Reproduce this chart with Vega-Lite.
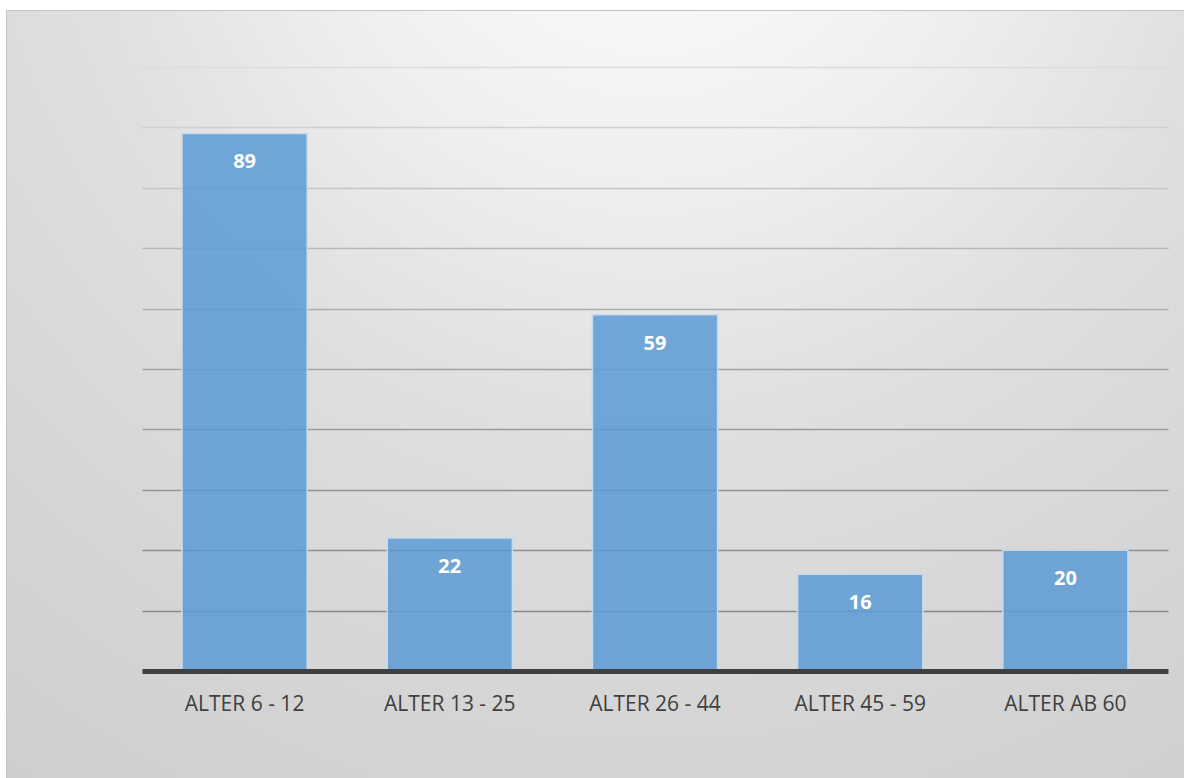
{
  "$schema": "https://vega.github.io/schema/vega-lite/v6.json",
  "autosize": {"type": "none"},
  "padding": {"left": 6, "top": 10, "right": 0, "bottom": 0},
  "width": 1178,
  "height": 768,
  "background": "#ffffff",
  "config": {
    "font": "Open Sans"
  },
  "view": {
    "stroke": "#c4c4c4",
    "strokeWidth": 1,
    "fill": {
      "gradient": "radial",
      "x1": 0.547, "y1": 0.03, "r1": 0,
      "x2": 0.547, "y2": 0.03, "r2": 1.2,
      "stops": [
        {"offset": 0, "color": "#ffffff"},
        {"offset": 0.25, "color": "#eeeeee"},
        {"offset": 0.417, "color": "#dfdfdf"},
        {"offset": 0.625, "color": "#d5d5d5"},
        {"offset": 0.833, "color": "#cdcdcd"},
        {"offset": 1, "color": "#c4c4c4"}
      ]
    }
  },
  "data": {
    "values": [
      {"gruppe": "ALTER 6 - 12", "wert": 89},
      {"gruppe": "ALTER 13 - 25", "wert": 22},
      {"gruppe": "ALTER 26 - 44", "wert": 59},
      {"gruppe": "ALTER 45 - 59", "wert": 16},
      {"gruppe": "ALTER AB 60", "wert": 20}
    ]
  },
  "encoding": {
    "x": {
      "field": "gruppe",
      "type": "nominal",
      "sort": null,
      "scale": {"range": [136, 1162], "paddingInner": 0.39, "paddingOuter": 0.195},
      "axis": {
        "title": null,
        "offset": -107,
        "labelAngle": 0,
        "labelFont": "Open Sans",
        "labelFontSize": 21,
        "labelColor": "#404040",
        "labelPadding": 22,
        "ticks": false,
        "domainColor": "#404040",
        "domainWidth": 5,
        "zindex": 2
      }
    },
    "y": {
      "field": "wert",
      "type": "quantitative",
      "scale": {"domain": [0, 100], "range": [661, 57], "nice": false},
      "axis": {
        "title": null,
        "labels": false,
        "ticks": false,
        "domain": false,
        "values": [10, 20, 30, 40, 50, 60, 70, 80, 90, 100],
        "gridWidth": 1.5,
        "gridColor": {
          "condition": [
            {"test": "datum.value >= 100", "value": "#dcdcdc"},
            {"test": "datum.value >= 90", "value": "#d0d0d0"},
            {"test": "datum.value >= 80", "value": "#c4c4c4"},
            {"test": "datum.value >= 70", "value": "#b8b8b8"},
            {"test": "datum.value >= 60", "value": "#aeaeae"},
            {"test": "datum.value >= 50", "value": "#a4a4a4"},
            {"test": "datum.value >= 40", "value": "#9c9c9c"},
            {"test": "datum.value >= 30", "value": "#959595"},
            {"test": "datum.value >= 20", "value": "#8e8e8e"}
          ],
          "value": "#8a8a8a"
        }
      }
    }
  },
  "layer": [
    {
      "mark": {
        "type": "bar",
        "fill": "#5b9bd5",
        "fillOpacity": 0.85,
        "stroke": "#c5dcf0",
        "strokeWidth": 1.5
      }
    },
    {
      "mark": {
        "type": "text",
        "baseline": "middle",
        "dy": 29,
        "font": "Open Sans",
        "fontSize": 20,
        "fontWeight": "bold",
        "color": "#ffffff"
      },
      "encoding": {
        "text": {"field": "wert", "type": "quantitative"}
      }
    }
  ]
}
